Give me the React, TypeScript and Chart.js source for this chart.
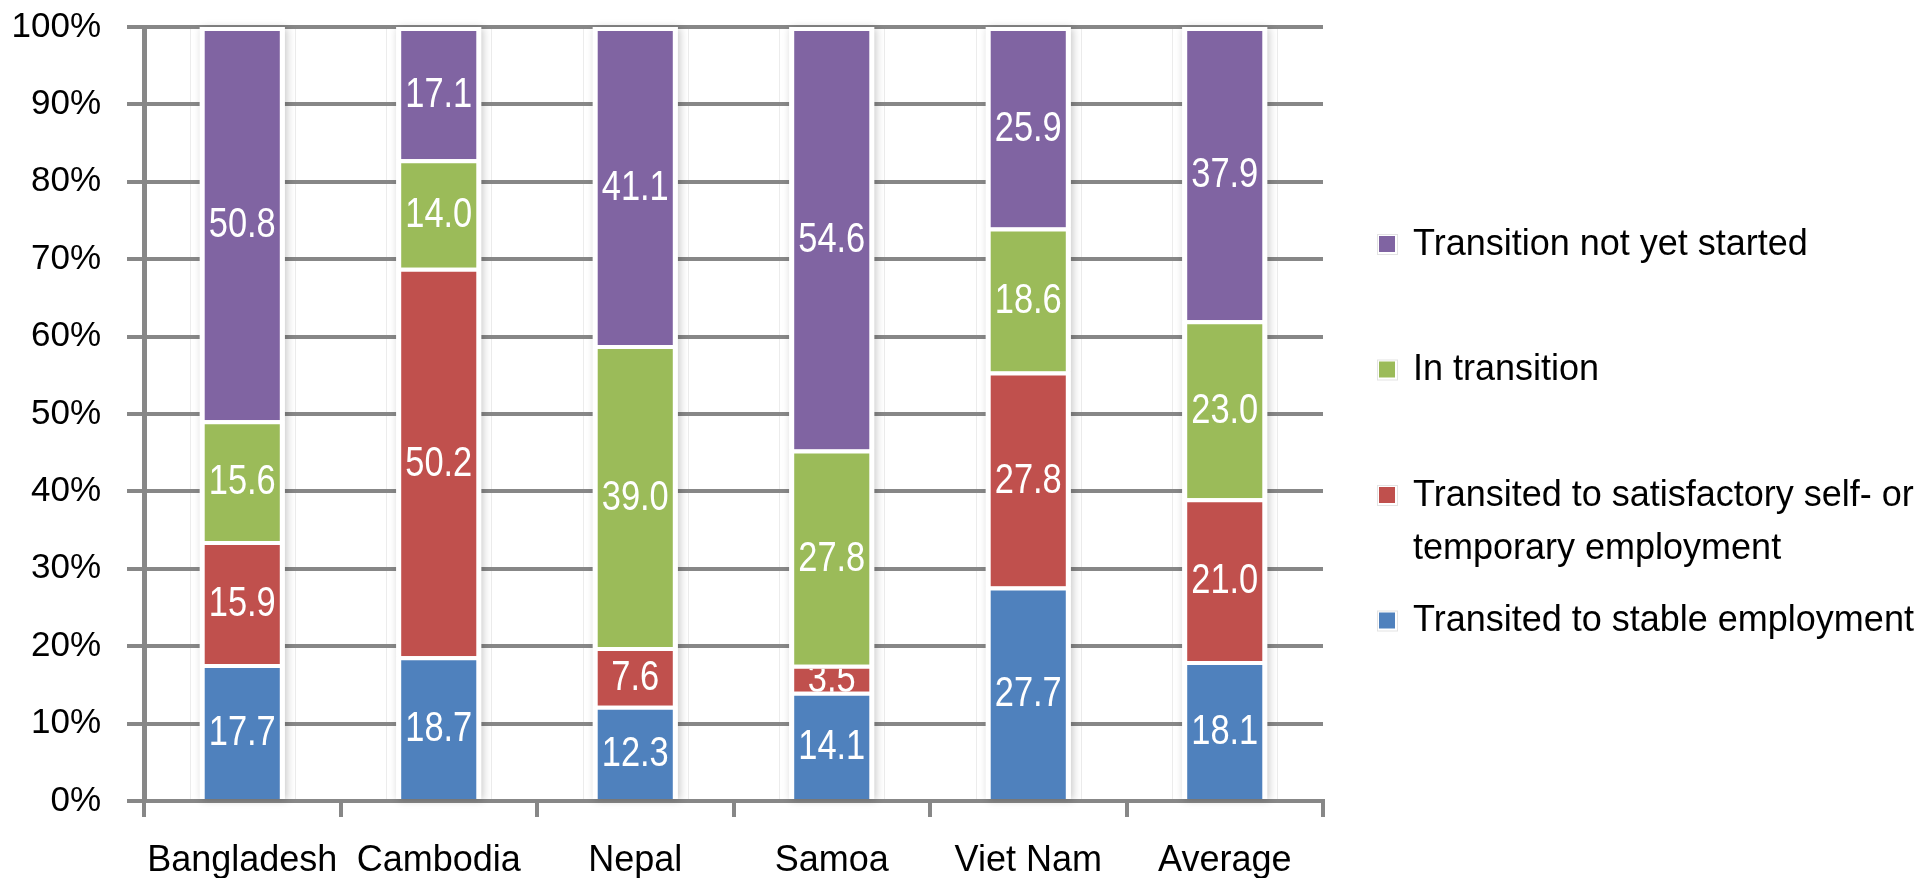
import React, { useEffect, useRef } from "react";
import { Chart, registerables } from "chart.js";

Chart.register(...registerables);

// Share of youth by stage of labour market transition (%)
const categories = ["Bangladesh", "Cambodia", "Nepal", "Samoa", "Viet Nam", "Average"];
const stableEmployment = [17.7, 18.7, 12.3, 14.1, 27.7, 18.1];
const satisfactoryEmployment = [15.9, 50.2, 7.6, 3.5, 27.8, 21.0];
const inTransition = [15.6, 14.0, 39.0, 27.8, 18.6, 23.0];
const notYetStarted = [50.8, 17.1, 41.1, 54.6, 25.9, 37.9];

const seriesLines = [
  ["Transited to stable employment"],
  ["Transited to satisfactory self- or", "temporary employment"],
  ["In transition"],
  ["Transition not yet started"],
];
const seriesColors = ["#4F81BD", "#C0504D", "#9BBB59", "#8064A2"];
const seriesValues = [stableEmployment, satisfactoryEmployment, inTransition, notYetStarted];

const yMin = 0;
const yMax = 100;
const yStep = 10;

const SANS = "'Liberation Sans', Arial, sans-serif";
const AXIS_GRAY = "#878787";
const SEGMENT_GAP = 4;

Chart.defaults.font.family = SANS;
Chart.defaults.font.size = 35;
Chart.defaults.color = "#000000";

const backgroundPlugin = {
  id: "pageBackground",
  beforeDraw(chart: any) {
    const { ctx, chartArea } = chart;
    ctx.save();
    ctx.fillStyle = "#ffffff";
    ctx.fillRect(0, 0, chart.width, chart.height);
    // faint frame lines flanking every column
    const meta = chart.getDatasetMeta(0);
    ctx.strokeStyle = "#ececec";
    ctx.lineWidth = 1;
    meta.data.forEach((el: any) => {
      const half = el.width / 2 + 10;
      [el.x - half, el.x + half].forEach((lx) => {
        ctx.beginPath();
        ctx.moveTo(Math.round(lx) + 0.5, chartArea.top);
        ctx.lineTo(Math.round(lx) + 0.5, chartArea.bottom);
        ctx.stroke();
      });
    });
    ctx.restore();
  },
};

const columnShadowPlugin = {
  id: "columnShadow",
  beforeDatasetsDraw(chart: any) {
    const { ctx } = chart;
    const first = chart.getDatasetMeta(0).data;
    const last = chart.getDatasetMeta(chart.data.datasets.length - 1).data;
    ctx.save();
    ctx.fillStyle = "#ffffff";
    ctx.shadowColor = "rgba(0,0,0,0.22)";
    ctx.shadowBlur = 8;
    ctx.shadowOffsetX = 2;
    ctx.shadowOffsetY = 1;
    first.forEach((el: any, i: number) => {
      const top = last[i].y;
      const bottom = el.base;
      ctx.fillRect(el.x - el.width / 2, top, el.width, bottom - top);
    });
    ctx.restore();
  },
};

// value labels, set in a condensed face and kept inside their own segment
const valueLabelPlugin = {
  id: "valueLabels",
  afterDatasetsDraw(chart: any) {
    const { ctx } = chart;
    const squeeze = 0.82;
    chart.data.datasets.forEach((ds: any, d: number) => {
      const meta = chart.getDatasetMeta(d);
      meta.data.forEach((el: any, i: number) => {
        const v = ds.data[i] as number;
        const cy = (el.y + el.base) / 2 + 2;
        ctx.save();
        ctx.beginPath();
        ctx.rect(el.x - el.width / 2, el.y + SEGMENT_GAP, el.width, el.base - el.y - SEGMENT_GAP);
        ctx.clip();
        ctx.translate(el.x, cy);
        ctx.scale(squeeze, 1);
        ctx.fillStyle = "#ffffff";
        ctx.font = `42px ${SANS}`;
        ctx.textAlign = "center";
        ctx.textBaseline = "middle";
        ctx.fillText(v.toFixed(1), 0, 0);
        ctx.restore();
      });
    });
  },
};

const sideLegendPlugin = {
  id: "sideLegend",
  afterDraw(chart: any) {
    const { ctx, chartArea } = chart;
    const x0 = chartArea.right + 55;
    const rowStep = 125.5;
    const lineStep = 53;
    let y = chartArea.top + 217;
    ctx.save();
    ctx.font = `36px ${SANS}`;
    ctx.textBaseline = "middle";
    ctx.textAlign = "left";
    const order = chart.data.datasets.map((_: any, i: number) => i).reverse();
    order.forEach((d: number) => {
      const ds = chart.data.datasets[d];
      ctx.fillStyle = "#e3e3e3";
      ctx.fillRect(x0 - 1, y - 10, 21, 21);
      ctx.fillStyle = "#ffffff";
      ctx.fillRect(x0, y - 9, 19, 19);
      ctx.fillStyle = ds.backgroundColor;
      ctx.fillRect(x0 + 1, y - 8, 16, 16);
      ctx.fillStyle = "#000000";
      (ds.legendLines as string[]).forEach((line, k) => {
        ctx.fillText(line, x0 + 35, y + 1 + k * lineStep);
      });
      y += rowStep;
    });
    ctx.restore();
  },
};

export default function App() {
  const canvasRef = useRef<HTMLCanvasElement | null>(null);

  useEffect(() => {
    if (!canvasRef.current) return;
    const chart = new Chart(canvasRef.current, {
      type: "bar",
      data: {
        labels: categories,
        datasets: seriesValues.map((vals, i) => ({
          label: seriesLines[i].join(" "),
          legendLines: seriesLines[i],
          data: vals,
          backgroundColor: seriesColors[i],
          borderColor: "#ffffff",
          borderWidth: { top: SEGMENT_GAP, left: 5, right: 5, bottom: 0 },
          borderSkipped: false,
          categoryPercentage: 1,
          barPercentage: 0.433,
        })) as any,
      },
      options: {
        animation: false,
        responsive: true,
        maintainAspectRatio: false,
        layout: { padding: { left: 0, top: 27, right: 1926 - 1323, bottom: 0 } },
        plugins: {
          legend: { display: false },
          tooltip: { enabled: false },
        },
        scales: {
          x: {
            stacked: true,
            grid: {
              display: true,
              drawOnChartArea: false,
              drawTicks: true,
              tickLength: 16,
              color: AXIS_GRAY,
              lineWidth: 4,
              offset: true,
            },
            border: { display: true, color: AXIS_GRAY, width: 4 },
            ticks: {
              color: "#000000",
              font: { family: SANS, size: 36 },
              padding: 22,
              maxRotation: 0,
              autoSkip: false,
            },
            afterFit(scale: any) {
              scale.height = 77;
              scale.paddingLeft = 0;
              scale.paddingRight = 0;
            },
          },
          y: {
            stacked: true,
            min: yMin,
            max: yMax,
            grid: {
              color: AXIS_GRAY,
              lineWidth: 4,
              drawTicks: true,
              tickLength: 17,
            },
            border: { display: true, color: AXIS_GRAY, width: 5 },
            ticks: {
              stepSize: yStep,
              color: "#000000",
              font: () => ({ family: SANS, size: 35 }),
              padding: 26,
              autoSkip: false,
              callback: (v: any) => `${v}%`,
            },
            afterFit(scale: any) {
              scale.width = 144;
              scale.paddingTop = 0;
              scale.paddingBottom = 0;
            },
          },
        },
      } as any,
      plugins: [backgroundPlugin, columnShadowPlugin, valueLabelPlugin, sideLegendPlugin],
    });
    return () => chart.destroy();
  }, []);

  return (
    <div style={{ position: "fixed", left: 0, top: 0, width: 1926, height: 878, background: "#fff" }}>
      <canvas ref={canvasRef} width={1926} height={878} />
    </div>
  );
}
